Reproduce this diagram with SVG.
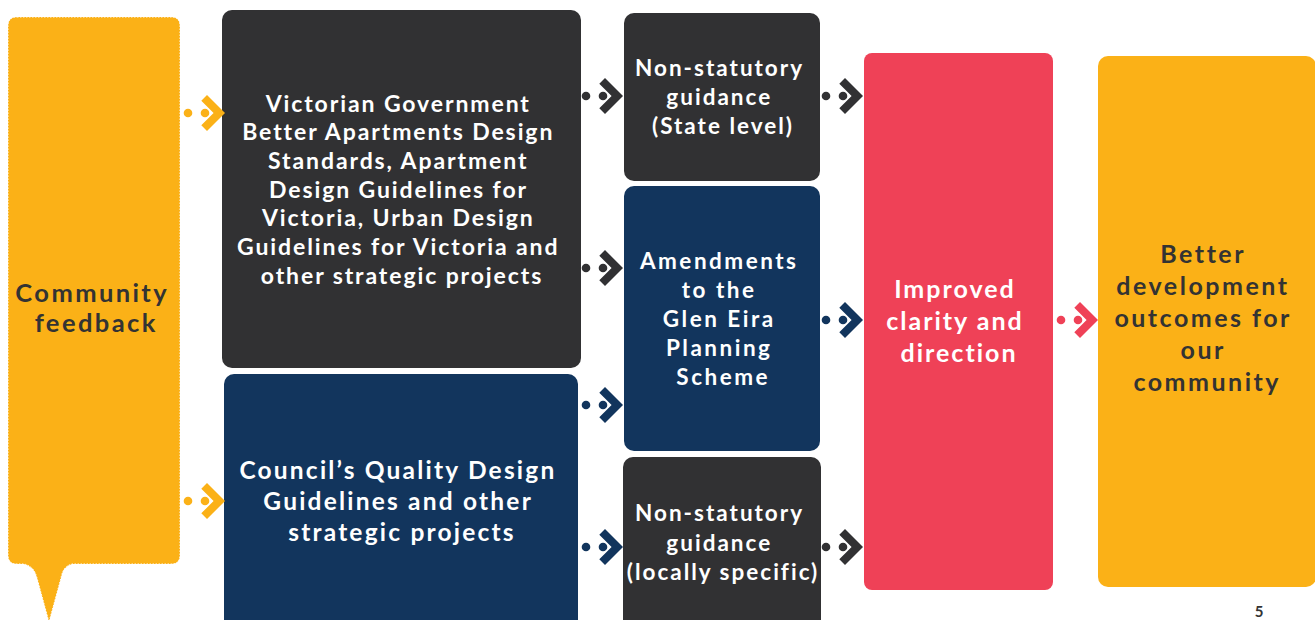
<svg xmlns="http://www.w3.org/2000/svg" width="1315" height="620" viewBox="0 0 1315 620">
<style>
.t{font-family:Lato,"Open Sans","Liberation Sans",sans-serif;font-weight:700;text-anchor:middle;}
.w{fill:#ffffff;}
.d{fill:#333333;}
.dark{fill:#313133;}
.navy{fill:#12355d;}
.red{fill:#ef4157;}
.yel{fill:#fbb117;}
</style>
<defs>
<g id="arr">
<circle cx="0" cy="0" r="4.3"/>
<circle cx="17" cy="0" r="4.3"/>
<polygon points="19,-18 37,0 19,18 13.3,12.3 25.6,0 13.3,-12.3"/>
</g>
</defs>
<rect width="1315" height="620" fill="#ffffff"/>
<g id="community">
<path class="yel" d="M17,17 H171 Q180,17 180,26 V555 Q180,564 171,564 H72 Q63,566 61,578 L49,622 L37,578 Q34,566 24,564 H17 Q8,564 8,555 V26 Q8,17 17,17 Z" stroke="#ffffff" stroke-width="1" stroke-dasharray="1.5 1.5"/>
<text class="t d" font-size="25.5" letter-spacing="2.4">
<tspan x="96.2" y="302">Community</tspan>
<tspan x="96.2" y="332">feedback</tspan>
</text>
</g>
<g id="vicgov">
<rect class="dark" x="222" y="10" width="359" height="358" rx="10"/>
<text class="t w" font-size="23" letter-spacing="1.9">
<tspan x="402" y="111.5">Victorian Government</tspan>
<tspan x="402" y="140.3">Better Apartments Design</tspan>
<tspan x="402" y="169">Standards, Apartment</tspan>
<tspan x="402" y="197.7">Design Guidelines for</tspan>
<tspan x="402" y="226.4">Victoria, Urban Design</tspan>
<tspan x="402" y="255">Guidelines for Victoria and</tspan>
<tspan x="402" y="284">other strategic projects</tspan>
</text>
</g>
<g id="council">
<rect class="navy" x="224" y="374" width="354" height="260" rx="10"/>
<text class="t w" font-size="24.5" letter-spacing="2.2">
<tspan x="402" y="479">Council’s Quality Design</tspan>
<tspan x="402" y="510">Guidelines and other</tspan>
<tspan x="402" y="541">strategic projects</tspan>
</text>
</g>
<g id="nonstat-state">
<rect class="dark" x="624" y="13" width="196" height="168" rx="10"/>
<text class="t w" font-size="22.5" letter-spacing="2">
<tspan x="723" y="76">Non-statutory</tspan>
<tspan x="723" y="105">guidance</tspan>
<tspan x="723" y="134">(State level)</tspan>
</text>
</g>
<g id="amendments">
<rect class="navy" x="624" y="186" width="196" height="265" rx="10"/>
<text class="t w" font-size="22.5" letter-spacing="2.5">
<tspan x="723.2" y="269">Amendments</tspan>
<tspan x="723.2" y="298">to the</tspan>
<tspan x="723.2" y="327">Glen Eira</tspan>
<tspan x="723.2" y="356">Planning</tspan>
<tspan x="723.2" y="385">Scheme</tspan>
</text>
</g>
<g id="nonstat-local">
<rect class="dark" x="623" y="457" width="198" height="180" rx="10"/>
<text class="t w" font-size="22.5" letter-spacing="2">
<tspan x="723" y="521">Non-statutory</tspan>
<tspan x="723" y="551">guidance</tspan>
<tspan x="723" y="580">(locally specific)</tspan>
</text>
</g>
<g id="improved">
<rect class="red" x="864" y="53" width="189" height="537" rx="8"/>
<text class="t w" font-size="25" letter-spacing="2">
<tspan x="959" y="298">Improved</tspan>
<tspan x="959" y="330">clarity and</tspan>
<tspan x="959" y="362">direction</tspan>
</text>
</g>
<g id="outcomes">
<rect class="yel" x="1098" y="56" width="218" height="531" rx="10"/>
<text class="t d" font-size="25" letter-spacing="2.5">
<tspan x="1207.2" y="263">Better</tspan>
<tspan x="1207.2" y="295">development</tspan>
<tspan x="1207.2" y="327">outcomes for</tspan>
<tspan x="1207.2" y="359">our</tspan>
<tspan x="1207.2" y="391">community</tspan>
</text>
</g>
<g id="connectors">
<use href="#arr" x="188" y="113" fill="#fbb117"/>
<use href="#arr" x="188" y="501" fill="#fbb117"/>
<use href="#arr" x="586" y="96" fill="#313133"/>
<use href="#arr" x="586" y="268" fill="#313133"/>
<use href="#arr" x="586" y="405" fill="#12355d"/>
<use href="#arr" x="586" y="547" fill="#12355d"/>
<use href="#arr" x="826" y="96" fill="#313133"/>
<use href="#arr" x="826" y="320" fill="#12355d"/>
<use href="#arr" x="826" y="547" fill="#313133"/>
<use href="#arr" x="1061" y="320" fill="#ef4157"/>
</g>
<text class="t d" font-size="15" x="1259" y="617">5</text>
</svg>
